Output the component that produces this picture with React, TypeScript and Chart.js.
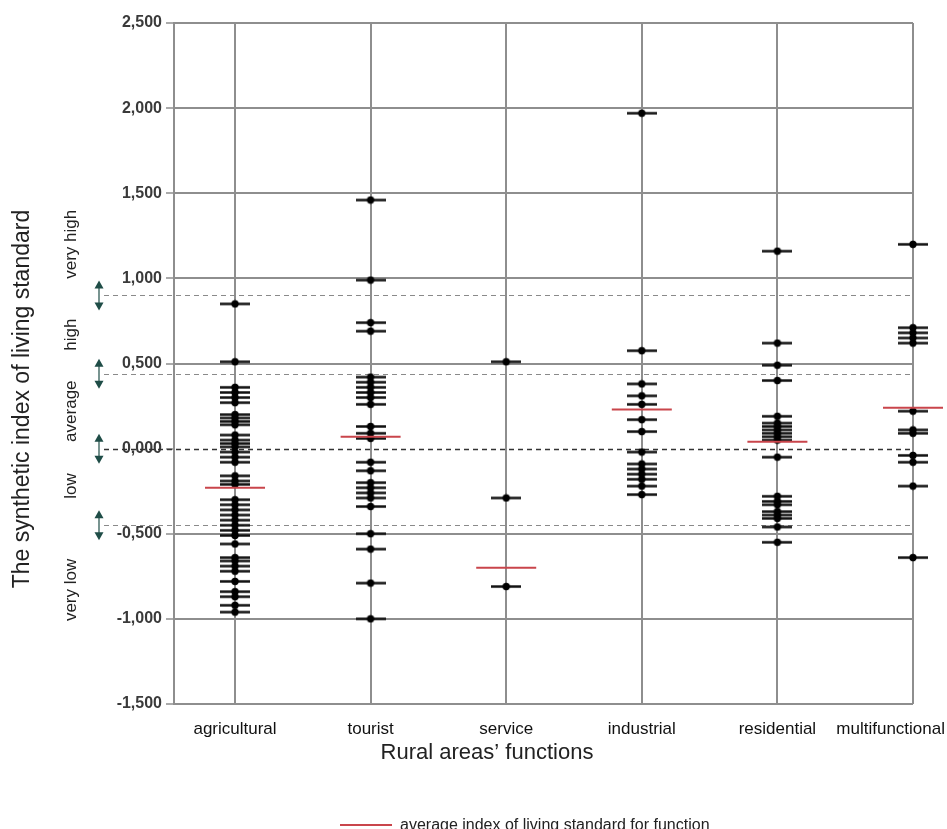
import React, { useEffect, useRef } from 'react';
import { Chart, registerables } from 'chart.js';

Chart.register(...registerables);

const categories = ['agricultural', 'tourist', 'service', 'industrial', 'residential', 'multifunctional'];

const agricultural = [0.85, 0.51, 0.36, 0.33, 0.30, 0.27, 0.20, 0.18, 0.16, 0.14, 0.08, 0.05, 0.03, 0.01, -0.02, -0.05, -0.08, -0.16, -0.19, -0.21, -0.30, -0.33, -0.36, -0.39, -0.42, -0.45, -0.48, -0.51, -0.56, -0.64, -0.66, -0.69, -0.72, -0.78, -0.84, -0.87, -0.92, -0.96];
const tourist = [1.46, 0.99, 0.74, 0.69, 0.42, 0.39, 0.36, 0.33, 0.30, 0.26, 0.13, 0.09, 0.06, -0.08, -0.13, -0.20, -0.23, -0.26, -0.29, -0.34, -0.50, -0.59, -0.79, -1.00];
const service = [0.51, -0.29, -0.81];
const industrial = [1.97, 0.575, 0.38, 0.31, 0.26, 0.17, 0.10, -0.02, -0.09, -0.12, -0.15, -0.18, -0.22, -0.27];
const residential = [1.16, 0.62, 0.49, 0.40, 0.19, 0.15, 0.13, 0.11, 0.09, 0.07, 0.05, -0.05, -0.28, -0.31, -0.33, -0.37, -0.39, -0.41, -0.46, -0.55];
const multifunctional = [1.20, 0.71, 0.68, 0.65, 0.62, 0.22, 0.11, 0.09, -0.04, -0.08, -0.22, -0.64];

const seriesValues = [agricultural, tourist, service, industrial, residential, multifunctional];
const averages = [-0.23, 0.07, -0.70, 0.23, 0.04, 0.24];

const thresholds = [0.9, 0.44, 0, -0.45];
const bandLabels = ['very high', 'high', 'average', 'low', 'very low'];
const bandLabelValues = [1.2, 0.67, 0.22, -0.22, -0.83];

const yMin = -1.5;
const yMax = 2.5;
const yStep = 0.5;

const yTitle = 'The synthetic index of living standard';
const xTitle = 'Rural areas\u2019 functions';
const legendText = 'average index of living standard for function';

const RED = '#c9454b';
const GRID = '#8e8e8e';
const FONT = 'Arial, "Liberation Sans", sans-serif';

function makeMarker(): HTMLCanvasElement {
  const c = document.createElement('canvas');
  c.width = 30;
  c.height = 9;
  const g = c.getContext('2d')!;
  g.strokeStyle = '#111';
  g.lineWidth = 2.5;
  g.beginPath();
  g.moveTo(0, 4.5);
  g.lineTo(30, 4.5);
  g.stroke();
  g.fillStyle = '#000';
  g.beginPath();
  g.arc(15, 4.5, 3.7, 0, Math.PI * 2);
  g.fill();
  return c;
}

const extrasPlugin = {
  id: 'extras',
  beforeDatasetsDraw(chart: any) {
    const { ctx, chartArea, scales } = chart;
    const y = scales.y;
    ctx.save();
    thresholds.forEach((t) => {
      const py = Math.round(y.getPixelForValue(t)) + 0.5;
      ctx.beginPath();
      ctx.setLineDash([5, 4]);
      if (t === 0) {
        ctx.strokeStyle = '#333';
        ctx.lineWidth = 1.5;
      } else {
        ctx.strokeStyle = '#8a8a8a';
        ctx.lineWidth = 1.2;
      }
      ctx.moveTo(104, py);
      ctx.lineTo(chartArea.right, py);
      ctx.stroke();
    });
    ctx.restore();
  },
  afterDraw(chart: any) {
    const { ctx, scales } = chart;
    const y = scales.y;
    const x = scales.x;
    ctx.save();
    ctx.setLineDash([]);
    // arrows
    ctx.fillStyle = '#1f4d47';
    ctx.strokeStyle = '#1f4d47';
    thresholds.forEach((t) => {
      const py = y.getPixelForValue(t);
      const ax = 99;
      ctx.beginPath();
      ctx.moveTo(ax, py - 15);
      ctx.lineTo(ax - 4.5, py - 7);
      ctx.lineTo(ax + 4.5, py - 7);
      ctx.closePath();
      ctx.fill();
      ctx.beginPath();
      ctx.moveTo(ax, py + 15);
      ctx.lineTo(ax - 4.5, py + 7);
      ctx.lineTo(ax + 4.5, py + 7);
      ctx.closePath();
      ctx.fill();
      ctx.lineWidth = 1.2;
      ctx.beginPath();
      ctx.moveTo(ax, py - 8);
      ctx.lineTo(ax, py + 8);
      ctx.stroke();
    });
    // band labels
    ctx.fillStyle = '#222';
    ctx.font = '17px ' + FONT;
    ctx.textAlign = 'center';
    ctx.textBaseline = 'middle';
    bandLabels.forEach((lab, i) => {
      const py = y.getPixelForValue(bandLabelValues[i]);
      ctx.save();
      ctx.translate(71, py);
      ctx.rotate(-Math.PI / 2);
      ctx.fillText(lab, 0, 0);
      ctx.restore();
    });
    // y title
    ctx.font = '23px ' + FONT;
    ctx.save();
    ctx.translate(23, 399);
    ctx.rotate(-Math.PI / 2);
    ctx.fillText(yTitle, 0, 0);
    ctx.restore();
    // category labels
    ctx.font = '17px ' + FONT;
    ctx.fillStyle = '#111';
    categories.forEach((cat, i) => {
      const w = ctx.measureText(cat).width;
      let cx = x.getPixelForValue(i);
      if (cx + w / 2 > chart.width - 2) cx = chart.width - 2 - w / 2;
      ctx.fillText(cat, cx, 729);
    });
    // x title
    ctx.font = '22px ' + FONT;
    ctx.fillStyle = '#222';
    ctx.fillText(xTitle, 487, 753);
    // legend
    ctx.strokeStyle = RED;
    ctx.lineWidth = 2;
    ctx.beginPath();
    ctx.moveTo(340, 825);
    ctx.lineTo(392, 825);
    ctx.stroke();
    ctx.font = '16px ' + FONT;
    ctx.textAlign = 'left';
    ctx.textBaseline = 'alphabetic';
    ctx.fillStyle = '#222';
    ctx.fillText(legendText, 400, 830);
    ctx.restore();
  },
};

export default function App() {
  const ref = useRef<HTMLCanvasElement>(null);

  useEffect(() => {
    const marker = makeMarker();
    const pointData: { x: number; y: number }[] = [];
    seriesValues.forEach((vals, i) => vals.forEach((v) => pointData.push({ x: i, y: v })));
    const avgData = averages.map((v, i) => ({ x: i, y: v }));

    const chart = new Chart(ref.current!, {
      type: 'scatter',
      data: {
        datasets: [
          {
            label: legendText,
            data: avgData,
            pointStyle: 'line',
            radius: 30,
            hoverRadius: 30,
            borderColor: RED,
            backgroundColor: RED,
            borderWidth: 2,
            hoverBorderWidth: 2,
            clip: false as any,
          },
          {
            label: 'observations',
            data: pointData,
            pointStyle: marker as any,
            radius: 15,
            hoverRadius: 15,
            clip: false as any,
          },
        ],
      },
      options: {
        responsive: false,
        animation: false,
        devicePixelRatio: 1,
        layout: { autoPadding: false, padding: { left: 0, top: 23, right: 34, bottom: 0 } },
        plugins: {
          legend: { display: false },
          tooltip: { enabled: false },
        },
        scales: {
          x: {
            type: 'linear',
            min: -0.45,
            max: 5,
            afterBuildTicks: (s: any) => {
              s.ticks = categories.map((_, i) => ({ value: i }));
            },
            afterFit: (s: any) => {
              s.height = 125;
              s.paddingLeft = 0;
              s.paddingRight = 0;
            },
            ticks: { display: false },
            grid: { color: GRID, lineWidth: 2, drawTicks: false },
            border: { display: false },
          },
          y: {
            min: yMin,
            max: yMax,
            afterFit: (s: any) => {
              s.width = 174;
              s.paddingTop = 0;
              s.paddingBottom = 0;
            },
            ticks: {
              stepSize: yStep,
              callback: (v: any) => Number(v).toFixed(3).replace('.', ','),
              font: { family: FONT, size: 16, weight: 'bold' },
              color: '#3a3a3a',
              padding: 4,
            },
            grid: {
              color: (c: any) => (c.tick && c.tick.value === 0 ? 'rgba(0,0,0,0)' : GRID),
              lineWidth: 2,
              tickLength: 8,
              tickColor: GRID,
              tickWidth: 1.5,
            },
            border: { display: true, color: GRID, width: 2 },
          },
        },
      },
      plugins: [extrasPlugin],
    });
    return () => chart.destroy();
  }, []);

  return (
    <div style={{ position: 'absolute', left: 0, top: 0, width: 947, height: 829, background: '#fff' }}>
      <canvas ref={ref} width={947} height={829} />
    </div>
  );
}
